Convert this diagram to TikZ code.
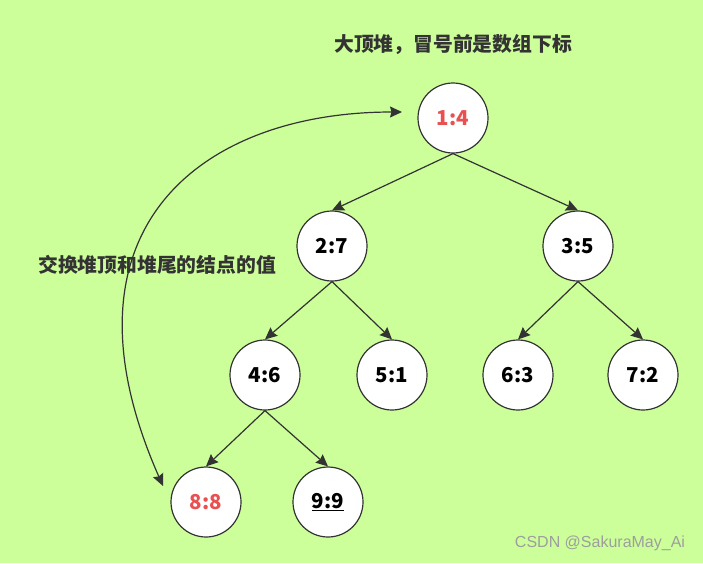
\documentclass[tikz,border=0pt]{standalone}
\usepackage{fontspec}
\setmainfont{Noto Sans CJK SC}
\newfontfamily\wmfont{Liberation Sans}
\usetikzlibrary{arrows.meta}

\definecolor{bggreen}{HTML}{CCFF99}
\definecolor{keyred}{HTML}{EA5050}
\definecolor{linegray}{HTML}{333333}

\tikzset{
  heapnode/.style={circle, draw=linegray, fill=white, line width=1.2pt, minimum size=70pt, inner sep=0pt, font=\fontsize{20.5}{24}\selectfont\bfseries},
  treeedge/.style={draw=linegray, line width=1.2pt, -{Stealth[length=12pt, width=11pt, inset=1.5pt]}},
  note/.style={text=linegray, font=\fontsize{19.8}{24}\selectfont\bfseries}
}

\begin{document}
\begin{tikzpicture}[x=1pt, y=-1pt]

% Background
\fill[bggreen] (0,0) rectangle (703,563);
\useasboundingbox (0,0) rectangle (703,563);

% Labels
\node[note] (title) at (453,45) {大顶堆，冒号前是数组下标};
\node[note] (swap) at (157,265) {交换堆顶和堆尾的结点的值};

% Heap nodes
\node[heapnode, text=keyred] (n1) at (453,118) {1:4};
\node[heapnode] (n2) at (332,246) {2:7};
\node[heapnode] (n3) at (578,246) {3:5};
\node[heapnode] (n4) at (265,375) {4:6};
\node[heapnode] (n5) at (392,375) {5:1};
\node[heapnode] (n6) at (518,375) {6:3};
\node[heapnode] (n7) at (643,375) {7:2};
\node[heapnode, text=keyred] (n8) at (206,502) {8:8};
\node[heapnode] (n9) at (328,502) {\underline{9:9}};

% Tree edges
\draw[treeedge] (n1.south) -- (n2.north);
\draw[treeedge] (n1.south) -- (n3.north);
\draw[treeedge] (n2.south) -- (n4.north);
\draw[treeedge] (n2.south) -- (n5.north);
\draw[treeedge] (n3.south) -- (n6.north);
\draw[treeedge] (n3.south) -- (n7.north);
\draw[treeedge] (n4.south) -- (n8.north);
\draw[treeedge] (n4.south) -- (n9.north);

% Swap arrow
\coordinate (swaptop) at (402,112);
\coordinate (swapbot) at (163,486);
\draw[draw=linegray, line width=1.2pt, {Stealth[length=12pt, width=11pt, inset=1.5pt]}-{Stealth[length=12pt, width=11pt, inset=1.5pt]}]
  (swapbot) .. controls (50,230) and (200,112) .. (swaptop);

% Watermark
\node[text=black!38, font=\wmfont\fontsize{16}{19}\selectfont] (mark) at (600,543) {CSDN @SakuraMay\_Ai};

\end{tikzpicture}
\end{document}
